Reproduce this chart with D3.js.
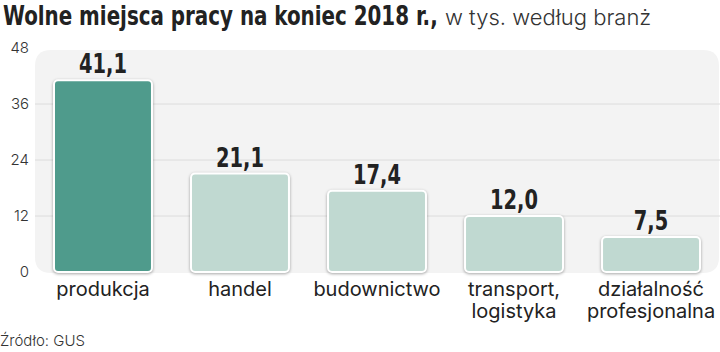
<!DOCTYPE html>
<html>
<head>
<meta charset="utf-8">
<script src="https://cdn.jsdelivr.net/npm/d3@7"></script>
<style>
  body { margin: 0; background: #fff; }
  svg { display: block; }
</style>
</head>
<body>
<div id="chart"></div>
<script>
const categories = [["produkcja"], ["handel"], ["budownictwo"], ["transport,", "logistyka"], ["działalność", "profesjonalna"]];
const values = [41.1, 21.1, 17.4, 12.0, 7.5];
const yTicks = [0, 12, 24, 36, 48];

const width = 720, height = 352;
const svg = d3.select("#chart").append("svg").attr("width", width).attr("height", height);

const x = d3.scaleBand().domain(d3.range(values.length)).range([54, 700]).paddingInner(0.285).paddingOuter(0);
const y = d3.scaleLinear().domain([0, 48]).range([272, 48]);

const narrow = "'DejaVu Sans Condensed', 'DejaVu Sans', sans-serif";

// title: bold part squeezed horizontally to mimic a condensed face
svg.append("text").attr("transform", "translate(3,25) scale(0.85,1)")
  .style("font-family", narrow).style("font-size", "26px").style("font-weight", "bold")
  .attr("fill", "#222").text("Wolne miejsca pracy na koniec 2018 r.,");
svg.append("text").attr("x", 445).attr("y", 25)
  .style("font-weight", "300").style("font-size", "22px").style("font-family", "Inter, 'Noto Sans'")
  .attr("fill", "#333").text("w tys. według branż");

// background panel
svg.append("path")
  .attr("d", () => {
    const x0 = 35, x1 = 719, y0 = y(48) + 2, y1 = y(0) + 1, r = 16;
    return `M${x0 + r},${y0} H${x1 - r} Q${x1},${y0} ${x1},${y0 + r} V${y1 - r} Q${x1},${y1} ${x1 - r},${y1} H${x0 + r} Q${x0},${y1} ${x0},${y1 - r} V${y0 + r} Q${x0},${y0} ${x0 + r},${y0} Z`;
  })
  .attr("fill", "#f3f3f3");

svg.append("g").selectAll("line").data(yTicks.filter(d => d > 0 && d < 48)).join("line")
  .attr("x1", 35).attr("x2", width).attr("y1", d => y(d)).attr("y2", d => y(d))
  .attr("stroke", "#dcdcdc").attr("stroke-width", 1);

const yAxis = svg.append("g").attr("transform", "translate(29,0)")
  .call(d3.axisLeft(y).tickValues(yTicks).tickSize(0).tickPadding(0));
yAxis.select(".domain").remove();
yAxis.selectAll("text").style("font-family", "Inter, 'Noto Sans'").style("font-size", "15px").style("font-weight", "300").attr("fill", "#333");

// bars
svg.append("g").selectAll("rect").data(values).join("rect")
  .attr("x", (d, i) => x(i)).attr("width", x.bandwidth())
  .attr("y", d => y(d)).attr("height", d => y(0) - y(d))
  .attr("rx", 4)
  .attr("fill", (d, i) => i === 0 ? "#4f9b8c" : "#c0d9d1")
  .attr("stroke", "#fff").attr("stroke-width", 2)
  .style("filter", "drop-shadow(0px 1px 1.5px rgba(0,0,0,0.35))");

svg.append("g").selectAll("text").data(values).join("text")
  .attr("transform", (d, i) => `translate(${x(i) + x.bandwidth() / 2},${y(d) - 7}) scale(0.8,1)`)
  .attr("text-anchor", "middle")
  .style("font-family", narrow).style("font-size", "27px").style("font-weight", "bold")
  .attr("fill", "#222")
  .text(d => d3.format(".1f")(d).replace(".", ","));

const labels = svg.append("g").selectAll("text").data(categories).join("text")
  .attr("text-anchor", "middle")
  .style("font-family", "Inter, 'Noto Sans'").style("font-size", "20px")
  .attr("fill", "#222");
labels.selectAll("tspan").data((d, i) => d.map(t => ({ t, i }))).join("tspan")
  .attr("x", d => x(d.i) + x.bandwidth() / 2)
  .attr("y", (d, j) => 296 + j * 22)
  .text(d => d.t);

svg.append("text").attr("x", 0).attr("y", 346)
  .style("font-family", "Inter, 'Noto Sans'").style("font-size", "15px").style("font-weight", "300")
  .attr("fill", "#333").text("Źródło: GUS");
</script>
</body>
</html>
